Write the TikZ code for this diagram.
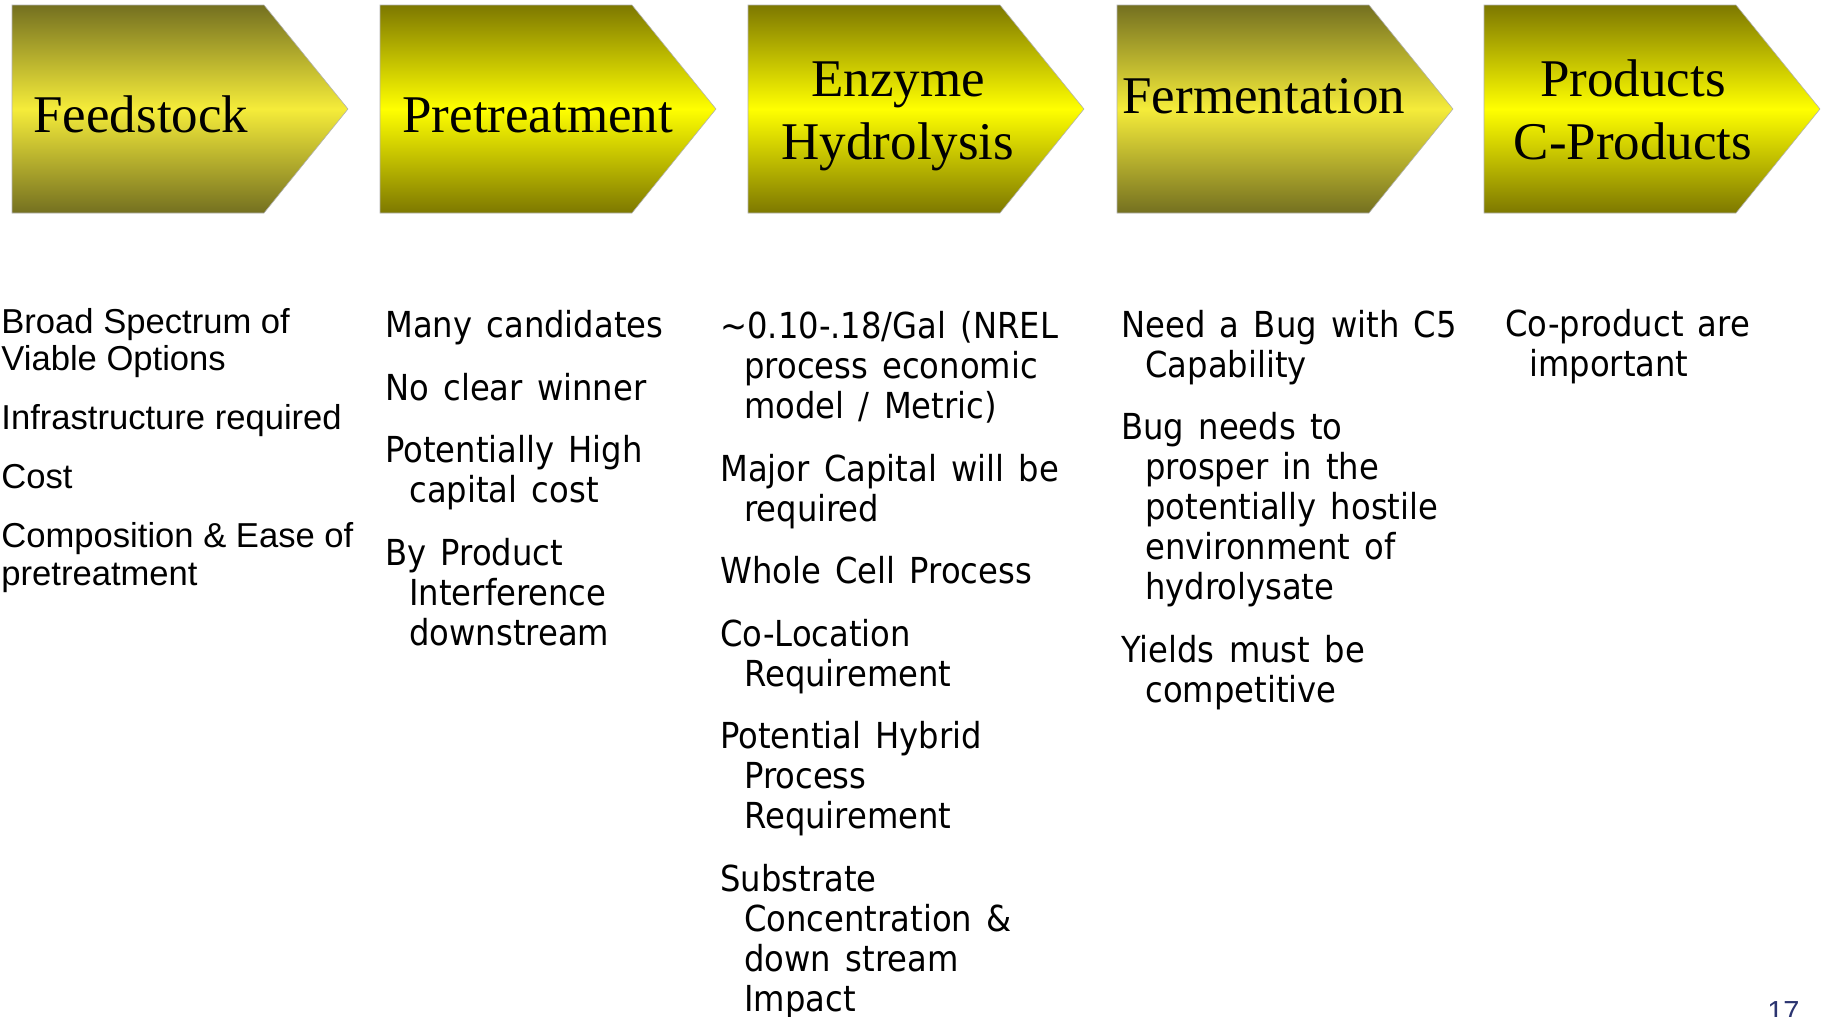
\documentclass[tikz,border=0pt]{standalone}
\usepackage{fontspec}
\setmainfont{Liberation Serif}
\newfontfamily\arialfont{Liberation Sans}
\newfontfamily\tahomafont[WordSpace=1.4]{DejaVu Sans Condensed}
\usetikzlibrary{positioning}

\definecolor{oliveA}{HTML}{747020}
\definecolor{yellowA}{HTML}{F5EC3A}
\definecolor{oliveB}{HTML}{7D7800}
\definecolor{yellowB}{HTML}{FFFF00}
\definecolor{pagenum}{HTML}{2B3470}

\tikzset{
  paleshade/.style={top color=oliveA, bottom color=oliveA, middle color=yellowA, draw=black!30, line width=0.3pt},
  brightshade/.style={top color=oliveB, bottom color=oliveB, middle color=yellowB, draw=black!30, line width=0.3pt},
  headtext/.style={font=\fontsize{26.5}{31.5}\selectfont, inner sep=0pt},
  arialtext/.style={font=\arialfont\fontsize{17.3}{18.6}\selectfont, align=left, inner sep=0pt, anchor=base west},
  tahomatext/.style={font=\tahomafont\fontsize{17.9}{20}\selectfont, align=left, inner sep=0pt, anchor=base west},
}
\newcommand{\ind}{\hspace*{12pt}}

\begin{document}
\begin{tikzpicture}[x=0.5pt,y=-0.5pt]
    \useasboundingbox (0,0) rectangle (1822,1017);

    % Arrows
    \shade[paleshade] (12,5) -- (264,5) -- (348,109) -- (264,213) -- (12,213) -- cycle;
    \shade[brightshade] (380,5) -- (632,5) -- (716,109) -- (632,213) -- (380,213) -- cycle;
    \shade[brightshade] (748,5) -- (1000,5) -- (1084,109) -- (1000,213) -- (748,213) -- cycle;
    \shade[paleshade] (1117,5) -- (1369,5) -- (1453,109) -- (1369,213) -- (1117,213) -- cycle;
    \shade[brightshade] (1484,5) -- (1736,5) -- (1820,109) -- (1736,213) -- (1484,213) -- cycle;

    % Headings (base = last line)
    \node[headtext, anchor=base west] (feed) at (33,132) {Feedstock};
    \node[headtext, anchor=base west] (pret) at (402,132) {Pretreatment};
    \node[headtext, align=center, anchor=base] (enz) at (898,159) {Enzyme\\Hydrolysis};
    \node[headtext, anchor=base west] (ferm) at (1122,113) {Fermentation};
    \node[headtext, align=center, anchor=base] (prod) at (1633,159) {Products\\C-Products};

    % Lists (placed by the baseline of their last line)
    \node[arialtext] (feedlist) at (1,585) {Broad Spectrum of\\Viable Options\\[11pt]Infrastructure required\\[11pt]Cost\\[11pt]Composition \& Ease of\\pretreatment};
    \node[tahomatext] (pretlist) at (385,645) {Many candidates\\[11.25pt]No clear winner\\[11.25pt]Potentially High\\\ind capital cost\\[11.25pt]By Product\\\ind Interference\\\ind downstream};
    \node[tahomatext] (enzlist) at (720,1011) {\textasciitilde0.10-.18/Gal (NREL\\\ind process economic\\\ind model / Metric)\\[11.25pt]Major Capital will be\\\ind required\\[11.25pt]Whole Cell Process\\[11.25pt]Co-Location\\\ind Requirement\\[11.25pt]Potential Hybrid\\\ind Process\\\ind Requirement\\[11.25pt]Substrate\\\ind Concentration \&\\\ind down stream\\\ind Impact};
    \node[tahomatext] (fermlist) at (1121,702) {Need a Bug with C5\\\ind Capability\\[11.25pt]Bug needs to\\\ind prosper in the\\\ind potentially hostile\\\ind environment of\\\ind hydrolysate\\[11.25pt]Yields must be\\\ind competitive};
    \node[tahomatext] (prodlist) at (1505,376) {Co-product are\\\ind important};

    \node[font=\arialfont\fontsize{14.5}{14.5}\selectfont, text=pagenum, anchor=base east, inner sep=0pt] (pnum) at (1800,1021) {17};
\end{tikzpicture}
\end{document}
